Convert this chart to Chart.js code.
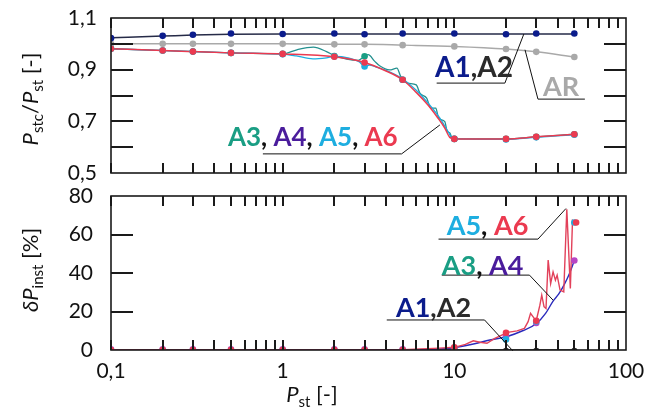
<!DOCTYPE html>
<html>
<head>
<meta charset="utf-8">
<script src="https://cdn.jsdelivr.net/npm/chart.js@4.4.1/dist/chart.umd.min.js"></script>
<style>
  html, body { margin: 0; padding: 0; background: #fff; }
  #wrap { position: relative; width: 646px; height: 407px; }
  .box { position: absolute; left: 0; width: 646px; }
  #topBox { top: 0; height: 185px; }
  #botBox { top: 185px; height: 222px; }
</style>
</head>
<body>
<div id="wrap">
  <div class="box" id="topBox"><canvas id="topChart"></canvas></div>
  <div class="box" id="botBox"><canvas id="botChart"></canvas></div>
</div>
<script>
// shared x (P_st) of the marked points
const xPts = [0.1, 0.2, 0.3, 0.5, 1, 2, 3, 5, 10, 20, 30, 50]
const xLabels = [0.1, 1, 10, 100]
const xMarks = [0.1, 0.2, 0.3, 0.4, 0.5, 0.6, 0.7, 0.8, 0.9, 1, 2, 3, 4, 5, 6, 7, 8, 9,
  10, 20, 30, 40, 50, 60, 70, 80, 90]
const topLabels = [0.5, 0.7, 0.9, 1.1]
const topMarks = [0.6, 0.7, 0.8, 0.9, 1.0]
const botLabels = [0, 20, 40, 60, 80]
const botMarks = [20, 40, 60]

// top panel: Pstc/Pst
const a1Top = [1.022, 1.031, 1.035, 1.040, 1.038, 1.040, 1.037, 1.040, 1.040, 1.037, 1.040, 1.040]
const a2Top = [1.024, 1.030, 1.034, 1.037, 1.038, 1.038, 1.038, 1.038, 1.038, 1.038, 1.038, 1.038]
const arTop = [1.000, 1.000, 1.000, 1.000, 1.000, 0.998, 0.998, 0.995, 0.990, 0.980, 0.969, 0.949]
const a3Top = [0.981, 0.974, 0.970, 0.965, 0.961, 0.953, 0.952, 0.861, 0.632, 0.632, 0.640, 0.650]
const a5Top = [0.981, 0.974, 0.970, 0.965, 0.960, 0.951, 0.912, 0.861, 0.632, 0.630, 0.638, 0.648]
const a6Top = [0.981, 0.974, 0.970, 0.965, 0.961, 0.950, 0.928, 0.861, 0.632, 0.632, 0.640, 0.650]

const a6TopCurve = [[0.1, 0.981], [0.2, 0.974], [0.3, 0.970], [0.5, 0.965], [1, 0.961], [2, 0.950], [3, 0.928],
  [4, 0.895], [5, 0.861], [6, 0.812], [7, 0.764], [8, 0.714], [8.8, 0.674], [9.4, 0.638], [10, 0.632],
  [20, 0.632], [30, 0.640], [50, 0.650]]
const a5TopCurve = [[0.1, 0.981], [0.5, 0.965], [1, 0.960], [1.2, 0.953], [1.5, 0.942], [1.8, 0.946], [2, 0.951],
  [2.4, 0.946], [2.8, 0.930], [3, 0.912], [3.2, 0.918], [3.5, 0.910], [4, 0.897], [5, 0.864], [6, 0.820],
  [7, 0.772], [8.2, 0.714], [9.2, 0.660], [9.8, 0.633], [20, 0.630], [30, 0.638], [50, 0.648]]
const a3TopCurve = [[0.1, 0.981], [0.5, 0.965], [1, 0.961], [1.21, 0.977], [1.51, 0.987], [1.8, 0.970], [2, 0.955],
  [2.36, 0.941], [2.76, 0.936], [3, 0.952], [3.15, 0.958], [3.44, 0.932], [3.67, 0.915], [4.2, 0.899],
  [4.63, 0.906], [4.87, 0.874], [5.35, 0.848], [6.0, 0.841], [6.3, 0.809], [6.9, 0.790], [7.3, 0.751],
  [7.8, 0.751], [8.1, 0.712], [8.8, 0.699], [9.1, 0.660], [9.4, 0.656], [9.7, 0.635], [10, 0.632],
  [20, 0.632], [30, 0.640], [50, 0.650]]

// bottom panel: dPinst [%]
const a2Bot = [-0.5, -0.5, -0.5, -0.5, -0.5, -0.5, -0.5, -0.5, -0.5, -0.5, -0.5, -0.5]
const a4Bot = [0.3, 0.3, 0.3, 0.3, 0.3, 0.3, 0.3, 0.3, 1.0, 7.0, 14.0, 46.5]
const a5Bot = [-0.3, -0.3, -0.3, -0.3, -0.3, -0.3, -0.3, -0.3, 1.2, 5.5, 14.8, 66.2]
const a6Bot = [0, 0, 0, 0, 0, 0, 0, 0, 1.4, 9.0, 15.2, 66.2]
const a6BotX = [0.1, 0.2, 0.3, 0.5, 1, 2, 3, 5, 10, 20, 30, 51.2]

const a4BotCurve = [[0.1, 0], [5, 0.1], [8.3, 0.5], [10, 1.2], [12.9, 3.1], [16.1, 5.2], [20.1, 6.9], [25, 10.0],
  [30.1, 13.8], [34, 19.0], [37.6, 25.4], [40.5, 29.0], [43.5, 33.7], [47, 40.0], [50, 46.5]]
const a6BotCurve = [[0.1, 0], [5, 0.2], [8.2, 1.0], [10, 1.4], [11.6, 2.9], [12.9, 4.8], [14.1, 4.0], [15.5, 3.5],
  [17.2, 6.0], [19.3, 8.1], [20, 9.0], [23.2, 9.9], [25.6, 11.2], [26.9, 14.7], [27.8, 19.0], [29.2, 16.4],
  [30, 15.2], [31.5, 23.3], [32.3, 28.5], [33.3, 22.5], [34.2, 21.6], [35.2, 46.7], [36.4, 34.6], [37.6, 40.6],
  [38.8, 36.3], [39.7, 38.9], [41.3, 31.1], [43.4, 30.2], [45.2, 73.1], [47.4, 32.0], [48.8, 67.4], [51.2, 66.2]]

const navy = '#0b1c8c', dark = '#2b2b2b', gray = '#a9a9a9', teal = '#1a9e84', tealLine = '#24908f'
const purple = '#4a1c9c', blue = '#2b2bbd', magenta = '#b845c4', cyan = '#1eaee0', red = '#eb3a50'

const pts = (ys, xs = xPts) => xs.map((x, i) => ({ x: x, y: ys[i] }))
const curve = arr => arr.map(p => ({ x: p[0], y: p[1] }))

function dots(data, color, r) {
  return { data: data, showLine: false, pointRadius: r || 3.3, pointBackgroundColor: color, pointBorderWidth: 0, borderColor: color }
}
function line(data, color, w, mode) {
  return { data: data, borderColor: color, borderWidth: w || 1.4, pointRadius: 0, cubicInterpolationMode: mode || 'monotone' }
}

// frame with short inward ticks on all four sides
function makeFrame(yMarks) {
  return {
    id: 'frame',
    afterDatasetsDraw(chart) {
      const ctx = chart.ctx
      const a = chart.chartArea
      const sx = chart.scales.x, sy = chart.scales.y
      ctx.save()
      ctx.strokeStyle = '#1a1a1a'
      ctx.lineWidth = 2
      xMarks.forEach(v => {
        const px = Math.round(sx.getPixelForValue(v))
        ctx.beginPath(); ctx.moveTo(px, a.top); ctx.lineTo(px, a.top + 10); ctx.stroke()
        ctx.beginPath(); ctx.moveTo(px, a.bottom); ctx.lineTo(px, a.bottom - 10); ctx.stroke()
      })
      yMarks.forEach(v => {
        const py = Math.round(sy.getPixelForValue(v))
        ctx.beginPath(); ctx.moveTo(a.left, py); ctx.lineTo(a.left + 22, py); ctx.stroke()
        ctx.beginPath(); ctx.moveTo(a.right, py); ctx.lineTo(a.right - 22, py); ctx.stroke()
      })
      ctx.lineWidth = 1.6
      ctx.strokeRect(a.left, a.top, a.right - a.left, a.bottom - a.top)
      ctx.restore()
    }
  }
}

function makeCallouts(items) {
  return {
    id: 'callouts',
    afterDraw(chart) {
      const { ctx, scales: { x, y } } = chart
      ctx.save()
      items.forEach(item => {
        ctx.beginPath()
        item.line.forEach((p, i) => {
          const px = x.getPixelForValue(p[0]), py = y.getPixelForValue(p[1])
          if (i) ctx.lineTo(px, py); else ctx.moveTo(px, py)
        })
        ctx.strokeStyle = '#111'
        ctx.lineWidth = 1
        ctx.stroke()
        ctx.font = 'bold ' + item.size + 'px Lato'
        ctx.textBaseline = 'middle'
        ctx.textAlign = 'left'
        let px = x.getPixelForValue(item.x)
        const py = y.getPixelForValue(item.y)
        item.parts.forEach(p => {
          ctx.fillStyle = p[1]
          ctx.fillText(p[0], px, py)
          px += ctx.measureText(p[0]).width
        })
      })
      ctx.restore()
    }
  }
}

// axis titles with italic P and subscripts
function drawRich(ctx, parts, cx, cy, size, rotate) {
  const fontFor = st => (st === 'i' ? 'italic ' : '') + (st === 's' ? Math.round(size * 0.68) : size) + 'px Lato'
  ctx.save()
  ctx.translate(cx, cy)
  if (rotate) ctx.rotate(-Math.PI / 2)
  let total = 0
  parts.forEach(p => { ctx.font = fontFor(p[1]); total += ctx.measureText(p[0]).width })
  let px = -total / 2
  const base = size * 0.36
  ctx.textBaseline = 'alphabetic'
  ctx.textAlign = 'left'
  ctx.fillStyle = '#111'
  parts.forEach(p => {
    ctx.font = fontFor(p[1])
    ctx.fillText(p[0], px, p[1] === 's' ? base + size * 0.22 : base)
    px += ctx.measureText(p[0]).width
  })
  ctx.restore()
}

function makeTitles(items) {
  return {
    id: 'titles',
    afterDraw(chart) {
      items.forEach(t => drawRich(chart.ctx, t.parts, t.x, t.y, t.size, t.rotate))
    }
  }
}

const tickFont = { family: 'Lato', size: 21 }
const fmt = v => String(+(+v).toFixed(2)).replace('.', ',')
// keep the plot area where we put it: no label overhang padding
const noPad = s => { s.paddingTop = 0; s.paddingBottom = 0; s.paddingLeft = 0; s.paddingRight = 0 }

new Chart(document.getElementById('topChart'), {
  type: 'line',
  data: {
    datasets: [
      dots(pts(a6Top), red),
      dots(pts(a5Top), cyan),
      dots(pts(a3Top), teal),
      line(curve(a6TopCurve), red, 1.5),
      line(curve(a5TopCurve), cyan, 1.3),
      line(curve(a3TopCurve), tealLine, 1.3),
      dots(pts(a1Top), navy),
      line(pts(a2Top), '#262b48', 1.5),
      dots(pts(arTop), gray),
      line(pts(arTop), gray, 1.5)
    ]
  },
  options: {
    responsive: true,
    maintainAspectRatio: false,
    animation: false,
    layout: { padding: { top: 18, right: 20, bottom: 12, left: 0 } },
    plugins: { legend: { display: false }, tooltip: { enabled: false } },
    scales: {
      x: { type: 'logarithmic', min: 0.1, max: 100, display: false },
      y: {
        min: 0.5, max: 1.1,
        grid: { display: false, drawTicks: false },
        border: { display: false },
        afterBuildTicks: s => { s.ticks = topLabels.map(v => ({ value: v })) },
        afterFit: s => { s.width = 111; noPad(s) },
        ticks: { padding: 14, color: '#111', font: tickFont, callback: v => fmt(v) }
      }
    }
  },
  plugins: [
    makeFrame(topMarks),
    makeCallouts([
      { parts: [['A3', teal], [', ', '#111'], ['A4', purple], [', ', '#111'], ['A5', cyan], [', ', '#111'], ['A6', red]],
        x: 0.48, y: 0.637, size: 26, line: [[0.767, 0.574], [4.93, 0.574], [8.24, 0.686]] },
      { parts: [['A1', navy], [',', dark], ['A2', dark]],
        x: 7.71, y: 0.906, size: 28, line: [[7.89, 0.848], [19.7, 0.848], [25.4, 1.038]] },
      { parts: [['AR', gray]],
        x: 32.8, y: 0.832, size: 27, line: [[57.6, 0.786], [30.7, 0.786], [25.8, 0.977]] }
    ]),
    makeTitles([
      { parts: [['P', 'i'], ['stc', 's'], ['/', ''], ['P', 'i'], ['st', 's'], [' [-]', '']], x: 30, y: 99, size: 22, rotate: true }
    ])
  ]
})

new Chart(document.getElementById('botChart'), {
  type: 'line',
  data: {
    datasets: [
      dots(pts(a6Bot, a6BotX), red),
      dots(pts(a5Bot), cyan),
      dots(pts(a4Bot), magenta),
      line(curve(a6BotCurve), '#e2415a', 1.4, 'default'),
      line(curve(a4BotCurve), blue, 1.4),
      dots(pts(a2Bot), dark),
      line(pts(a2Bot), '#1e1e1e', 3.2)
    ]
  },
  options: {
    responsive: true,
    maintainAspectRatio: false,
    animation: false,
    layout: { padding: { top: 11, right: 20, bottom: 0, left: 0 } },
    plugins: { legend: { display: false }, tooltip: { enabled: false } },
    scales: {
      x: {
        type: 'logarithmic', min: 0.1, max: 100,
        grid: { display: false, drawTicks: false },
        border: { display: false },
        afterBuildTicks: s => { s.ticks = xLabels.map(v => ({ value: v })) },
        afterFit: s => { s.height = 57; noPad(s) },
        ticks: { padding: 9, color: '#111', font: tickFont, maxRotation: 0, autoSkip: false, callback: v => fmt(v) }
      },
      y: {
        min: 0, max: 80,
        grid: { display: false, drawTicks: false },
        border: { display: false },
        afterBuildTicks: s => { s.ticks = botLabels.map(v => ({ value: v })) },
        afterFit: s => { s.width = 111; noPad(s) },
        ticks: { padding: 18, color: '#111', font: tickFont, callback: v => fmt(v) }
      }
    }
  },
  plugins: [
    makeFrame(botMarks),
    makeCallouts([
      { parts: [['A5', cyan], [', ', '#111'], ['A6', red]],
        x: 9.02, y: 64.4, size: 27, line: [[8.09, 57.6], [30.7, 57.6], [44.7, 73.5]] },
      { parts: [['A3', teal], [', ', '#111'], ['A4', purple]],
        x: 8.45, y: 43.7, size: 27, line: [[8.45, 38.9], [27.4, 38.9], [37.6, 25.9]] },
      { parts: [['A1', navy], [',', dark], ['A2', dark]],
        x: 4.57, y: 21.9, size: 27, line: [[4.04, 15.6], [15.0, 15.6], [21.9, -0.4]] }
    ]),
    makeTitles([
      { parts: [['δ', 'i'], ['P', 'i'], ['inst', 's'], [' [%]', '']], x: 30, y: 85, size: 22, rotate: true },
      { parts: [['P', 'i'], ['st', 's'], [' [-]', '']], x: 312, y: 209, size: 22, rotate: false }
    ])
  ]
})
</script>
</body>
</html>
